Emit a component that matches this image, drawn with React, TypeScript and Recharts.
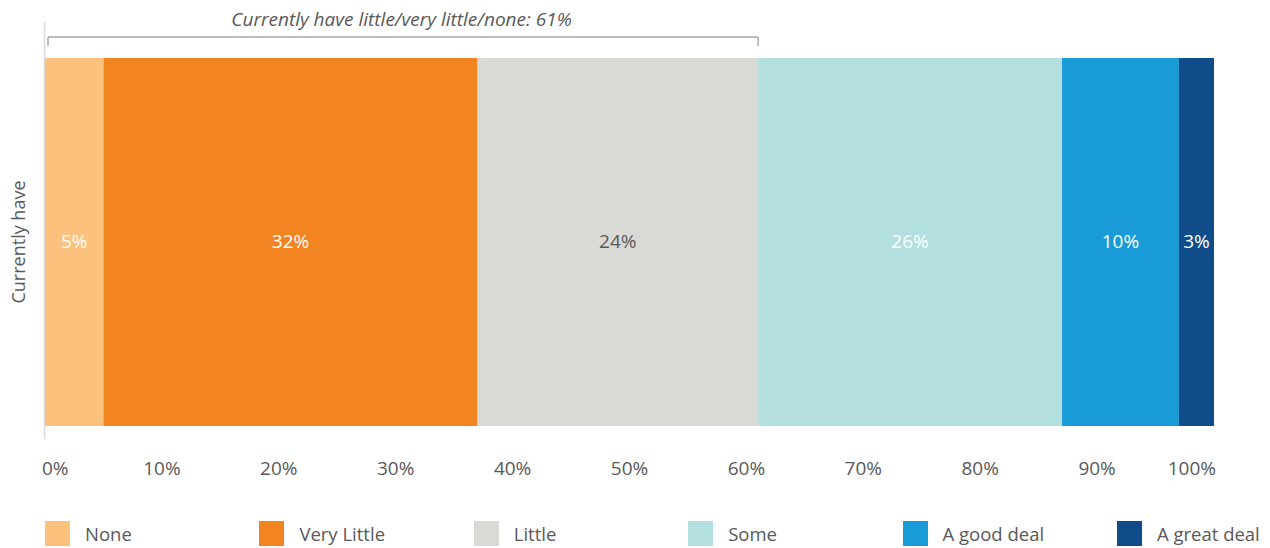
import React from "react";
import {
  BarChart,
  Bar,
  XAxis,
  YAxis,
  Legend,
  LabelList,
  ReferenceArea,
} from "recharts";

const categories = ["Currently have"];
const seriesNames = ["None", "Very Little", "Little", "Some", "A good deal", "A great deal"];
const seriesValues = [5, 32, 24, 26, 10, 3];
const seriesColors = ["#FCC17D", "#F38422", "#D9D9D5", "#B3DFE0", "#189BD7", "#0F4C89"];
const labelColors = ["#ffffff", "#ffffff", "#595959", "#ffffff", "#ffffff", "#ffffff"];
const xTicks = [0, 10, 20, 30, 40, 50, 60, 70, 80, 90, 100];
const bracketEnd = 61;
const bracketText = "Currently have little/very little/none: 61%";

const FONT = "'Open Sans', 'Noto Sans', sans-serif";
const GREY = "#595959";

const data = categories.map((name) => {
  const row: Record<string, string | number> = { name };
  seriesNames.forEach((s, i) => {
    row[s] = seriesValues[i];
  });
  return row;
});

function XTick(props: any) {
  const { x, y, payload } = props;
  const v = payload.value;
  let anchor: "start" | "middle" | "end" = "middle";
  let dx = 0;
  if (v === 0) {
    anchor = "start";
    dx = -3;
  } else if (v === 100) {
    anchor = "end";
    dx = 2;
  }
  return (
    <text
      x={x + dx}
      y={y}
      dy={41}
      textAnchor={anchor}
      fill={GREY}
      fontSize={19}
      fontFamily={FONT}
    >
      {`${v}%`}
    </text>
  );
}

function YTick(props: any) {
  const { y, payload } = props;
  const x = 25;
  return (
    <text
      x={x}
      y={y}
      transform={`rotate(-90, ${x}, ${y})`}
      textAnchor="middle"
      fill={GREY}
      fontSize={18}
      fontFamily={FONT}
    >
      {payload.value}
    </text>
  );
}

function Bracket(props: any) {
  const { x, y, width, height } = props;
  const top = y - 21;
  return (
    <g>
      <line
        x1={x - 0.5}
        x2={x - 0.5}
        y1={y - 36}
        y2={y + height + 13}
        stroke="#D9D9D9"
        strokeWidth={1.5}
      />
      <path
        d={`M${x + 3},${top + 9} V${top} H${x + width} V${top + 9}`}
        fill="none"
        stroke="#7F7F7F"
        strokeWidth={1}
      />
      <text
        x={x + width / 2}
        y={top - 11}
        textAnchor="middle"
        fill={GREY}
        fontSize={19}
        fontStyle="italic"
        fontFamily={FONT}
      >
        {bracketText}
      </text>
    </g>
  );
}

function LegendContent() {
  return (
    <div style={{ display: "flex", fontFamily: FONT, width: 1300 }}>
      {seriesNames.map((s, i) => (
        <div
          key={s}
          style={{
            width: 214.4,
            flexShrink: 0,
            display: "flex",
            alignItems: "center",
            height: 25,
          }}
        >
          <span
            style={{
              width: 25,
              height: 25,
              flexShrink: 0,
              background: seriesColors[i],
              display: "inline-block",
              marginRight: 15,
            }}
          />
          <span style={{ color: GREY, fontSize: 18.5, whiteSpace: "nowrap" }}>{s}</span>
        </div>
      ))}
    </div>
  );
}

export default function App() {
  return (
    <div style={{ margin: "-8px 0 0 -8px", width: 1270, height: 548, background: "#fff" }}>
      <BarChart
        width={1270}
        height={548}
        data={data}
        layout="vertical"
        barCategoryGap={0}
        margin={{ top: 58, right: 56, left: 0, bottom: 37 }}
      >
        <XAxis
          type="number"
          domain={[0, 100]}
          ticks={xTicks}
          axisLine={false}
          tickLine={false}
          tick={<XTick />}
          height={60}
          interval={0}
        />
        <YAxis
          type="category"
          dataKey="name"
          width={45}
          axisLine={false}
          tickLine={false}
          tick={<YTick />}
        />
        <Legend
          verticalAlign="bottom"
          content={<LegendContent />}
          wrapperStyle={{ left: 45, bottom: 2, width: 1225, overflow: "visible" }}
        />
        {seriesNames.map((s, i) => (
          <Bar
            key={s}
            dataKey={s}
            stackId="a"
            fill={seriesColors[i]}
            isAnimationActive={false}
          >
            <LabelList
              dataKey={s}
              content={(p: any) => (
                <text
                  x={p.x + p.width / 2}
                  y={p.y + p.height / 2}
                  dy={6}
                  textAnchor="middle"
                  fill={labelColors[i]}
                  fontSize={19}
                  fontFamily={FONT}
                >
                  {`${p.value}%`}
                </text>
              )}
            />
          </Bar>
        ))}
        <ReferenceArea
          x1={0}
          x2={bracketEnd}
          ifOverflow="visible"
          fill="none"
          shape={<Bracket />}
        />
      </BarChart>
    </div>
  );
}
